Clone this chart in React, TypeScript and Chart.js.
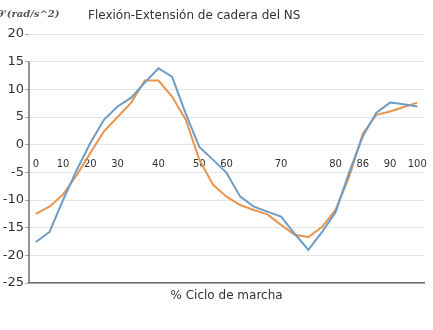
import React, { useEffect, useRef } from "react";
import { Chart, registerables } from "chart.js";

Chart.register(...registerables);

const tickLabels = ["0", "", "10", "", "20", "", "30", "", "", "40", "", "", "50", "", "60", "", "", "", "70", "", "", "", "80", "", "86", "", "90", "", "100"];
const seriesBlue = [-17.6, -15.8, -10, -4.6, 0.3, 4.5, 6.9, 8.5, 11.2, 13.8, 12.3, 5.6, -0.4, -2.7, -5.1, -9.4, -11.2, -12.1, -13, -16.1, -19, -15.8, -12.2, -5, 1.5, 5.8, 7.6, 7.3, 6.9];
const seriesOrange = [-12.5, -11.2, -9, -5.5, -1.5, 2.4, 5, 7.6, 11.6, 11.6, 8.7, 4.5, -2.7, -7.2, -9.4, -10.9, -11.8, -12.6, -14.5, -16.3, -16.7, -14.9, -11.8, -5.8, 2, 5.4, 6, 6.8, 7.6];
const yMin = -25;
const yMax = 20;
const yStep = 5;
const axisLineTop = 15;
const chartTitle = "Flexión-Extensión de cadera del NS";
const yUnitLabel = "θ'(rad/s^2)";
const xTitle = "% Ciclo de marcha";

const FONT = "'DejaVu Sans', Verdana, sans-serif";

const overlayPlugin = {
  id: "overlay",
  afterDraw(chart: any) {
    const { ctx, scales } = chart;
    const y = scales.y;
    ctx.save();
    // y-axis line (from 15 down to bottom)
    ctx.strokeStyle = "#6e6e6e";
    ctx.lineWidth = 1.5;
    ctx.beginPath();
    const xa = chart.chartArea.left;
    ctx.moveTo(xa, y.getPixelForValue(axisLineTop));
    ctx.lineTo(xa, y.getPixelForValue(yMin));
    ctx.stroke();
    // title
    ctx.fillStyle = "#333";
    ctx.font = "12px " + FONT;
    ctx.textAlign = "left";
    ctx.textBaseline = "middle";
    ctx.fillText(chartTitle, 88, 16);
    // unit label
    ctx.fillStyle = "#555";
    ctx.font = "italic bold 10px 'DejaVu Serif', 'Liberation Serif', serif";
    ctx.fillText(yUnitLabel, -3, 14);
    ctx.restore();
  },
};

export default function App() {
  const ref = useRef<HTMLCanvasElement | null>(null);
  useEffect(() => {
    if (!ref.current) return;
    const chart = new Chart(ref.current, {
      type: "line",
      data: {
        labels: tickLabels,
        datasets: [
          {
            data: seriesBlue,
            borderColor: "#6f9cc6",
            borderWidth: 2,
            pointRadius: 0,
            tension: 0,
            fill: false,
          },
          {
            data: seriesOrange,
            borderColor: "#e8954f",
            borderWidth: 2,
            pointRadius: 0,
            tension: 0,
            fill: false,
          },
        ],
      },
      options: {
        animation: false,
        responsive: false,
        maintainAspectRatio: false,
        layout: { padding: { top: 34, right: 8, left: 0, bottom: 0 } },
        plugins: {
          legend: { display: false },
          title: { display: false },
          tooltip: { enabled: false },
        },
        scales: {
          x: {
            type: "category",
            position: "bottom",
            offset: true,
            grid: { display: false },
            border: { display: true, color: "#6e6e6e", width: 1.5 },
            ticks: { display: false },
            title: {
              display: true,
              text: xTitle,
              color: "#333",
              font: { family: FONT, size: 12 },
              padding: { top: 0, bottom: 27 },
            },
            afterFit: (s: any) => {
              s.height = 47;
            },
          },
          x2: {
            type: "category",
            position: { y: 0 } as any,
            offset: true,
            grid: { display: false },
            border: { display: false },
            ticks: {
              autoSkip: false,
              maxRotation: 0,
              minRotation: 0,
              padding: 6,
              color: "#333",
              font: { family: FONT, size: 10 },
            },
          },
          y: {
            min: yMin,
            max: yMax,
            border: { display: false },
            grid: { color: "#e6e6e6", tickColor: "#aaa", tickLength: 4, lineWidth: 1 },
            ticks: {
              stepSize: yStep,
              padding: 1,
              color: "#333",
              font: { family: FONT, size: 13 },
            },
            afterFit: (s: any) => {
              s.width = 29;
            },
          },
        },
      },
      plugins: [overlayPlugin],
    });
    return () => chart.destroy();
  }, []);
  return (
    <div style={{ position: "absolute", left: 0, top: 0, width: 433, height: 330, background: "#fff" }}>
      <canvas ref={ref} width={433} height={330} style={{ display: "block" }} />
    </div>
  );
}
